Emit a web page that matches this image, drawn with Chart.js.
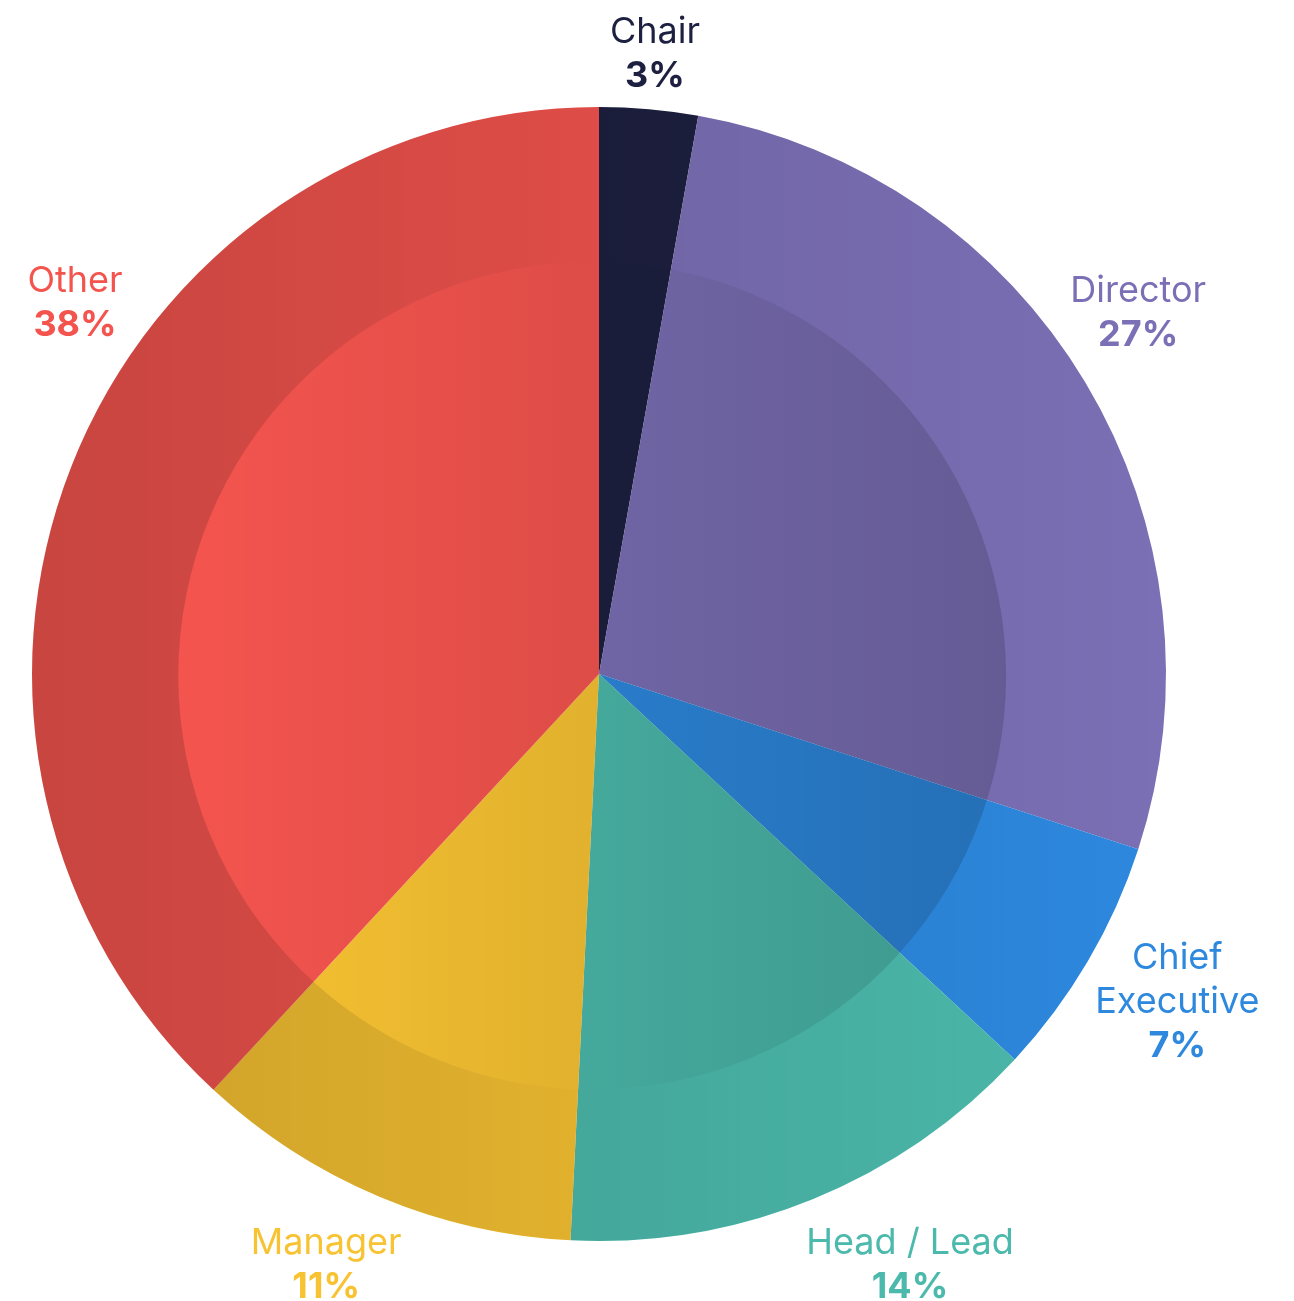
<!DOCTYPE html>
<html>
<head>
<meta charset="utf-8">
<script src="https://cdn.jsdelivr.net/npm/chart.js@4/dist/chart.umd.min.js"></script>
<style>
  html, body { margin: 0; padding: 0; background: #ffffff; }
  canvas { display: block; }
</style>
</head>
<body>
<canvas id="myChart" width="1294" height="1301"></canvas>
<script>
// data (slice angles), labels round to whole percents
let roles = ['Chair', 'Director', 'Chief Executive', 'Head / Lead', 'Manager', 'Other'];
let shares = [2.8, 27.2, 6.9, 13.9, 11.1, 38.1];
let roleColors = ['#1d2040', '#7b6fb5', '#2d88de', '#4bb9ab', '#f8c332', '#f4544e'];

// how the label text is split into lines
let labelLines = [['Chair'], ['Director'], ['Chief', 'Executive'], ['Head / Lead'], ['Manager'], ['Other']];

// small nudges so the labels sit where they sit in the original (degrees, distance from centre)
let labelNudge = [
    { da: 0.1, r: 625 },
    { da: -3.0, r: 650 },
    { da: -1.0, r: 664 },
    { da: -5.7, r: 666 },
    { da: 2.0, r: 649 },
    { da: 14.0, r: 643 }
];

const FONT = 'Inter, "Open Sans", "DejaVu Sans", sans-serif';

const shadePlugin = {
    id: 'shade',
    afterDatasetsDraw(chart) {
        const arc = chart.getDatasetMeta(0).data[0];
        if (!arc) return;
        const ctx = chart.ctx;
        const cx = arc.x, cy = arc.y, R = arc.outerRadius;
        const ix = cx - R * 0.012, iy = cy + R * 0.003, ir = R * 0.73;

        ctx.save();
        ctx.beginPath();
        ctx.arc(cx, cy, R, 0, Math.PI * 2);
        ctx.clip();

        // outer ring: darker on the left, fading to the right
        let g = ctx.createLinearGradient(cx - R, 0, cx + R, 0);
        g.addColorStop(0, 'rgba(0,0,0,0.18)');
        g.addColorStop(1, 'rgba(0,0,0,0.0)');
        ctx.beginPath();
        ctx.arc(cx, cy, R + 2, 0, Math.PI * 2);
        ctx.arc(ix, iy, ir, 0, Math.PI * 2, true);
        ctx.fillStyle = g;
        ctx.fill('evenodd');

        // inner disc: clean on the left, darker to the right
        g = ctx.createLinearGradient(ix - ir, 0, ix + ir, 0);
        g.addColorStop(0, 'rgba(0,0,0,0.0)');
        g.addColorStop(1, 'rgba(0,0,0,0.18)');
        ctx.beginPath();
        ctx.arc(ix, iy, ir, 0, Math.PI * 2);
        ctx.fillStyle = g;
        ctx.fill();
        ctx.restore();
    }
};

const labelPlugin = {
    id: 'outerLabels',
    afterDraw(chart) {
        const ctx = chart.ctx;
        const meta = chart.getDatasetMeta(0);
        const total = shares.reduce((a, b) => a + b, 0);
        const lineH = 44;

        meta.data.forEach((arc, i) => {
            const mid = (arc.startAngle + arc.endAngle) / 2 + labelNudge[i].da * Math.PI / 180;
            const x = arc.x + Math.cos(mid) * labelNudge[i].r;
            const y = arc.y + Math.sin(mid) * labelNudge[i].r;
            const lines = labelLines[i].concat([Math.round(shares[i] / total * 100) + '%']);
            const n = lines.length;

            ctx.save();
            ctx.fillStyle = roleColors[i];
            ctx.textAlign = 'center';
            ctx.textBaseline = 'alphabetic';
            lines.forEach((txt, k) => {
                const isPct = k === n - 1;
                ctx.font = (isPct ? '700 ' : '400 ') + '36px ' + FONT;
                ctx.fillText(txt, x, y + (k - (n - 1) / 2) * lineH + 13);
            });
            ctx.restore();
        });
    }
};

const createdGraph = document.getElementById('myChart');
new Chart(createdGraph, {
    type: 'pie',
    data: {
        labels: roles,
        datasets: [{
            data: shares,
            backgroundColor: roleColors,
            borderWidth: 0
        }]
    },
    options: {
        responsive: false,
        devicePixelRatio: 1,
        animation: false,
        layout: {
            padding: { left: 32, right: 128, top: 107, bottom: 60 }
        },
        plugins: {
            legend: { display: false },
            tooltip: { enabled: false }
        }
    },
    plugins: [shadePlugin, labelPlugin]
});
</script>
</body>
</html>
